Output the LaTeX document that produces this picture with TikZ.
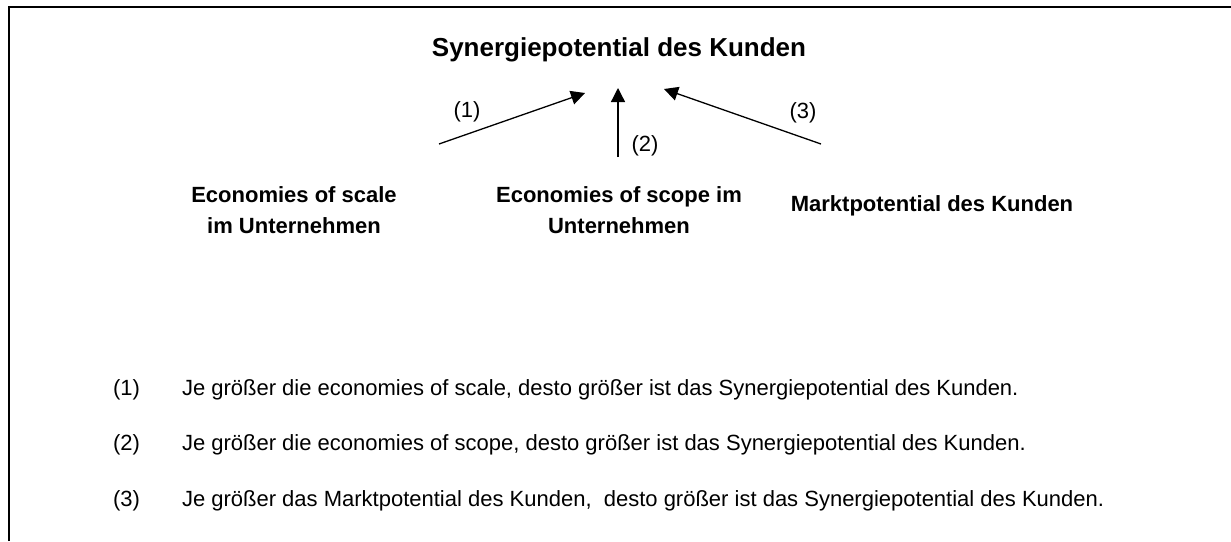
\documentclass[tikz,border=0pt]{standalone}
\usepackage{fontspec}
\setmainfont{Liberation Sans}
\usetikzlibrary{positioning, calc, arrows.meta}

\begin{document}
\begin{tikzpicture}[x=0.5pt, y=-0.5pt
    , every node/.style={inner sep=0pt, outer sep=0pt}
    , factor/.style={font=\fontsize{11}{15.5}\selectfont\bfseries, align=center}
    , num/.style={font=\fontsize{11}{13}\selectfont, anchor=base}
    , effect/.style={line width=0.65pt, -{Triangle[length=7pt, width=7pt]}}
    ]

    \useasboundingbox (0,0) rectangle (1231,541);

    % frame, only left and top edge
    \draw[line width=1.1pt] (9,541) -- (9,7) -- (1231,7);

    \node[font=\fontsize{13}{15}\selectfont\bfseries, anchor=base] (syn) at (619,56) {Synergiepotential des Kunden};

    \node[factor] (scale) at (294,210) {Economies of scale\\im Unternehmen};
    \node[factor] (scope) at (619,210) {Economies of scope im\\Unternehmen};
    \node[factor, anchor=base] (markt) at (932,211) {Marktpotential des Kunden};

    \coordinate (s1) at (439,144);
    \coordinate (t1) at (585,93);
    \coordinate (s2) at (618,157);
    \coordinate (t2) at (618,88);
    \coordinate (s3) at (821,144);
    \coordinate (t3) at (664,89);

    \draw[effect] (s1) -- (t1);
    \draw[effect] (s2) -- (t2);
    \draw[effect] (s3) -- (t3);

    \node[num] (n1) at (467,117) {(1)};
    \node[num] (n2) at (645,151) {(2)};
    \node[num] (n3) at (803,118) {(3)};

    % explanations
    \node[num, anchor=base west] (l1) at (113,395) {(1)};
    \node[num, anchor=base west] (e1) at (182,395) {Je größer die economies of scale, desto größer ist das Synergiepotential des Kunden.};
    \node[num, anchor=base west] (l2) at (113,450) {(2)};
    \node[num, anchor=base west] (e2) at (182,450) {Je größer die economies of scope, desto größer ist das Synergiepotential des Kunden.};
    \node[num, anchor=base west] (l3) at (113,506) {(3)};
    \node[num, anchor=base west] (e3) at (182,506) {Je größer das Marktpotential des Kunden,\ \ desto größer ist das Synergiepotential des Kunden.};

\end{tikzpicture}
\end{document}
